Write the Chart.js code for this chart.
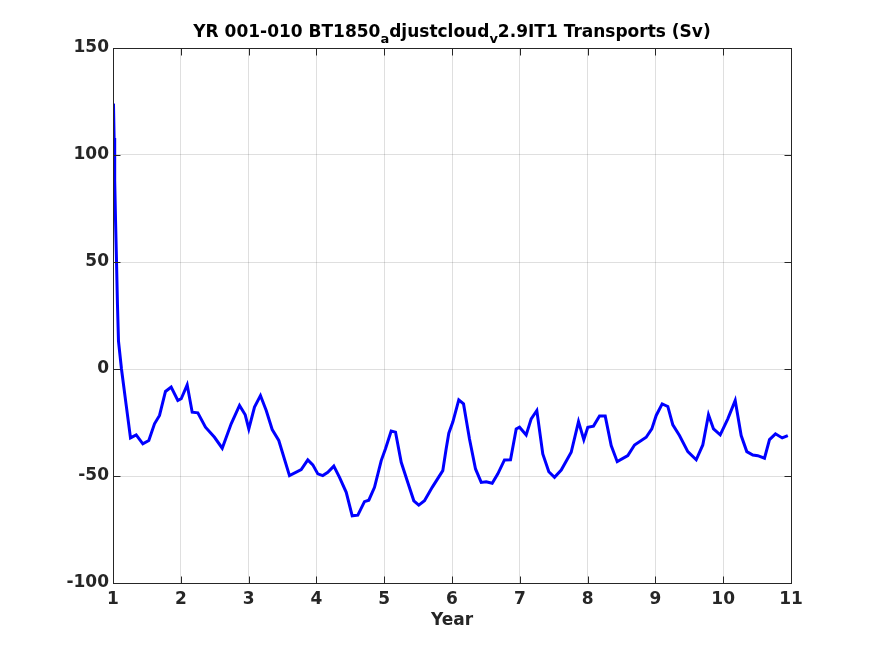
<!DOCTYPE html>
<html>
<head>
<meta charset="utf-8">
<script src="https://cdn.jsdelivr.net/npm/chart.js@4"></script>
<style>
html,body{margin:0;padding:0;background:#fff;}
#wrap{width:875px;height:656px;position:relative;}
</style>
</head>
<body>
<div id="wrap"><canvas id="c" width="875" height="656"></canvas></div>
<script>
const years = [1.007,1.016,1.025,1.037,1.052,1.066,1.081,1.125,1.195,1.258,1.342,1.440,1.528,1.612,1.686,1.774,1.858,1.956,2.006,2.094,2.168,2.251,2.364,2.497,2.611,2.743,2.866,2.950,3.003,3.087,3.175,3.260,3.348,3.445,3.603,3.776,3.873,3.947,4.021,4.094,4.168,4.257,4.341,4.440,4.528,4.611,4.709,4.773,4.857,4.956,5.019,5.103,5.167,5.251,5.348,5.437,5.510,5.594,5.708,5.864,5.914,5.953,6.012,6.100,6.170,6.258,6.347,6.431,6.504,6.593,6.676,6.774,6.863,6.947,6.996,7.094,7.168,7.251,7.339,7.428,7.512,7.611,7.758,7.866,7.944,8.003,8.087,8.176,8.260,8.348,8.437,8.593,8.692,8.864,8.947,9.012,9.100,9.183,9.257,9.355,9.478,9.602,9.699,9.783,9.857,9.956,10.068,10.177,10.265,10.348,10.437,10.510,10.609,10.683,10.771,10.870,10.953];
const transports = [124,108,88,70,50,30,13,0,-17,-32.2,-30.8,-35,-33.4,-25.6,-21.7,-10.5,-8.4,-14.7,-13.9,-7.4,-20.2,-20.5,-27.2,-31.9,-37,-25.6,-17,-21.4,-28,-17.8,-12.4,-19.4,-28.3,-33.4,-49.8,-47,-42.5,-44.8,-49,-49.8,-48.3,-45.4,-50.6,-57.6,-68.6,-68.3,-62,-61.3,-55.3,-42.8,-37.3,-29,-29.5,-43.6,-53,-61.6,-63.6,-61.6,-55.3,-47.5,-37.3,-30,-24.8,-14.4,-16.3,-32.7,-46.7,-53,-52.7,-53.4,-49,-42.5,-42.4,-28,-27.2,-30.8,-23.3,-19.4,-39.7,-48,-50.6,-47.2,-38.9,-24.6,-33,-27.2,-26.7,-22,-22,-35.8,-43.3,-40.5,-35.5,-31.9,-28,-21.7,-16.3,-17.5,-26.1,-31.1,-38.6,-42.4,-35.5,-21.4,-28,-30.8,-23.3,-14.7,-31.1,-38.6,-40.2,-40.5,-41.7,-33,-30.3,-32.2,-31.1];
const xTicks = [1,2,3,4,5,6,7,8,9,10,11];
const yTicks = [-100,-50,0,50,100,150];
const titleParts = [["YR 001-010 BT1850",false],["a",true],["djustcloud",false],["v",true],["2.9IT1 Transports (Sv)",false]];
const xLabel = "Year";

const FONT = "'DejaVu Sans', sans-serif";
const INK = '#262626';

const boxPlugin = {
  id: 'matlabBox',
  afterDraw(chart) {
    const ctx = chart.ctx;
    const a = chart.chartArea;
    const xs = chart.scales.x, ys = chart.scales.y;
    ctx.save();
    ctx.strokeStyle = INK;
    ctx.lineWidth = 1;
    const L = Math.round(a.left)+0.5, R = Math.round(a.right)+0.5, T = Math.round(a.top)+0.5, B = Math.round(a.bottom)+0.5;
    ctx.strokeRect(L, T, R-L, B-T);
    const tl = 7;
    ctx.beginPath();
    xTicks.forEach(v => {
      const px = Math.round(xs.getPixelForValue(v))+0.5;
      ctx.moveTo(px, B); ctx.lineTo(px, B-tl);
      ctx.moveTo(px, T); ctx.lineTo(px, T+tl);
    });
    yTicks.forEach(v => {
      const py = Math.round(ys.getPixelForValue(v))+0.5;
      ctx.moveTo(L, py); ctx.lineTo(L+tl, py);
      ctx.moveTo(R, py); ctx.lineTo(R-tl, py);
    });
    ctx.stroke();
    // title with TeX-like subscripts
    const fs = 17, sfs = 13;
    const mainFont = 'bold ' + fs + 'px ' + FONT;
    const subFont = 'bold ' + sfs + 'px ' + FONT;
    let total = 0;
    titleParts.forEach(p => { ctx.font = p[1] ? subFont : mainFont; total += ctx.measureText(p[0]).width; });
    let x = (a.left + a.right)/2 - total/2;
    const base = 37;
    ctx.fillStyle = '#000';
    ctx.textBaseline = 'alphabetic';
    ctx.textAlign = 'left';
    titleParts.forEach(p => {
      ctx.font = p[1] ? subFont : mainFont;
      ctx.fillText(p[0], x, p[1] ? base + 6 : base);
      x += ctx.measureText(p[0]).width;
    });
    // x label
    ctx.font = 'bold 17px ' + FONT;
    ctx.fillStyle = INK;
    ctx.textAlign = 'center';
    ctx.textBaseline = 'alphabetic';
    ctx.fillText(xLabel, (a.left + a.right)/2, 625);
    ctx.restore();
  }
};

new Chart(document.getElementById('c'), {
  type: 'line',
  data: {
    datasets: [{
      data: years.map((x, i) => ({x: x, y: transports[i]})),
      borderColor: '#0000ff',
      borderWidth: 3,
      pointRadius: 0,
      tension: 0,
      fill: false
    }]
  },
  options: {
    responsive: false,
    animation: false,
    devicePixelRatio: 1,
    layout: { padding: { left: 0, right: 84, top: 48, bottom: 0 } },
    plugins: { legend: { display: false }, tooltip: { enabled: false }, title: { display: false } },
    scales: {
      x: {
        type: 'linear', min: 1, max: 11,
        afterBuildTicks: s => { s.ticks = xTicks.map(v => ({value: v})); },
        afterFit: s => { s.height = 73; },
        grid: { color: 'rgba(38,38,38,0.15)', drawTicks: false, lineWidth: 1 },
        border: { display: false },
        ticks: { color: INK, font: { family: FONT, size: 17, weight: 'bold' }, padding: 6, maxRotation: 0, autoSkip: false }
      },
      y: {
        type: 'linear', min: -100, max: 150,
        afterBuildTicks: s => { s.ticks = yTicks.map(v => ({value: v})); },
        afterFit: s => { s.width = 113; },
        grid: { color: 'rgba(38,38,38,0.15)', drawTicks: false, lineWidth: 1 },
        border: { display: false },
        ticks: { color: INK, font: { family: FONT, size: 17, weight: 'bold' }, padding: 4, autoSkip: false }
      }
    }
  },
  plugins: [boxPlugin]
});
</script>
</body>
</html>
